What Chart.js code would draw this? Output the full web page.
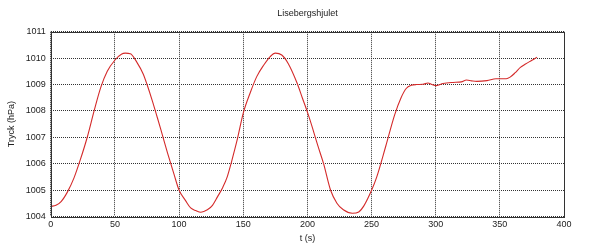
<!DOCTYPE html>
<html>
<head>
<meta charset="utf-8">
<title>Lisebergshjulet</title>
<script src="https://cdn.jsdelivr.net/npm/chart.js@4.4.1/dist/chart.umd.min.js"></script>
<style>
    body { margin: 0; background: #fff; }
    #wrap { width: 600px; height: 245px; }
</style>
</head>
<body>
<div id="wrap"><canvas id="pressureChart" width="600" height="245"></canvas></div>
<script>
// time in seconds
const times = [0, 4, 8, 13, 18, 23, 28.5, 34, 39, 44, 50, 55, 58, 62, 67, 72, 75, 79, 83, 86,
    91, 96, 100, 105, 109, 113, 117, 122, 126, 130, 134, 137.5, 141, 145, 150, 155.5, 160.5,
    166, 171, 175, 180, 185, 192, 196, 200.4, 204, 208, 212.6, 218, 223, 228, 235, 240, 244,
    250, 254, 261, 268, 273, 277, 281, 285, 290, 294, 297, 300.5, 305.7, 313.5, 320, 324,
    328, 332, 340, 347, 355, 358, 362, 366, 370, 375, 379];

// pressure in hPa
const pressure = [1004.38, 1004.42, 1004.56, 1004.93, 1005.45, 1006.15, 1007.02, 1008.05,
    1008.9, 1009.5, 1009.93, 1010.15, 1010.19, 1010.17, 1009.85, 1009.4, 1009.0, 1008.4,
    1007.75, 1007.25, 1006.4, 1005.6, 1004.99, 1004.6, 1004.32, 1004.22, 1004.16, 1004.25,
    1004.42, 1004.75, 1005.1, 1005.5, 1006.1, 1006.85, 1007.92, 1008.7, 1009.3, 1009.74,
    1010.06, 1010.19, 1010.12, 1009.8, 1009.05, 1008.5, 1007.9, 1007.35, 1006.7, 1006.0,
    1005.0, 1004.5, 1004.25, 1004.12, 1004.17, 1004.4, 1004.99, 1005.49, 1006.65, 1007.85,
    1008.5, 1008.85, 1008.97, 1009.0, 1009.01, 1009.06, 1009.0, 1008.96, 1009.04, 1009.08,
    1009.1, 1009.17, 1009.14, 1009.12, 1009.15, 1009.22, 1009.22, 1009.28, 1009.45, 1009.65,
    1009.78, 1009.92, 1010.04];

const xTicks = [0, 50, 100, 150, 200, 250, 300, 350, 400];
const yTicks = [1004, 1005, 1006, 1007, 1008, 1009, 1010, 1011];

const chartTitle = "Lisebergshjulet";
const xLabel = "t (s)";
const yLabel = "Tryck (hPa)";

const FONT = "'Liberation Sans', Arial, sans-serif";

// solid frame round the plot area, like gnuplot's border
const framePlugin = {
    id: "frame",
    afterDraw(chart) {
        const a = chart.chartArea;
        const ctx = chart.ctx;
        ctx.save();
        ctx.strokeStyle = "#333";
        ctx.lineWidth = 1;
        ctx.setLineDash([]);
        ctx.strokeRect(Math.round(a.left) + 0.5, Math.round(a.top) + 0.5,
            Math.round(a.right - a.left), Math.round(a.bottom - a.top));
        ctx.restore();
    }
};

let chartInstance = null;

window.onload = function () {
    loadChart();
};

function loadChart() {
    const ctx = document.getElementById("pressureChart").getContext("2d");

    if (chartInstance) {
        chartInstance.destroy();
    }

    const points = times.map((t, i) => ({ x: t, y: pressure[i] }));

    chartInstance = new Chart(ctx, {
        type: "line",
        data: {
            datasets: [{
                data: points,
                borderColor: "#d42a2a",
                borderWidth: 1.1,
                pointRadius: 0,
                fill: false,
                cubicInterpolationMode: "monotone"
            }]
        },
        options: {
            responsive: false,
            animation: false,
            layout: { padding: { left: 6, right: 36, top: 4, bottom: 1 } },
            plugins: {
                legend: { display: false },
                tooltip: { enabled: false },
                title: {
                    display: true,
                    text: chartTitle,
                    fullSize: false,
                    color: "#222",
                    font: { family: FONT, size: 9, weight: "normal" },
                    padding: { top: 4, bottom: 13 }
                }
            },
            scales: {
                x: {
                    type: "linear",
                    min: 0,
                    max: 400,
                    afterBuildTicks: axis => { axis.ticks = xTicks.map(v => ({ value: v })); },
                    grid: { color: "#333", lineWidth: 1, drawTicks: false },
                    border: { display: false, dash: [1, 1] },
                    ticks: { color: "#222", padding: 3, maxRotation: 0, font: { family: FONT, size: 9 } },
                    title: { display: true, text: xLabel, color: "#222", padding: { top: 0, bottom: 0 },
                        font: { family: FONT, size: 9 } }
                },
                y: {
                    min: 1004,
                    max: 1011,
                    afterBuildTicks: axis => { axis.ticks = yTicks.map(v => ({ value: v })); },
                    grid: { color: "#333", lineWidth: 1, drawTicks: false },
                    border: { display: false, dash: [1, 1] },
                    ticks: {
                        color: "#222",
                        padding: 5,
                        font: { family: FONT, size: 9 },
                        callback: v => String(v)
                    },
                    title: { display: true, text: yLabel, color: "#222", padding: { top: 0, bottom: 4 },
                        font: { family: FONT, size: 9 } }
                }
            }
        },
        plugins: [framePlugin]
    });
}
</script>
</body>
</html>
